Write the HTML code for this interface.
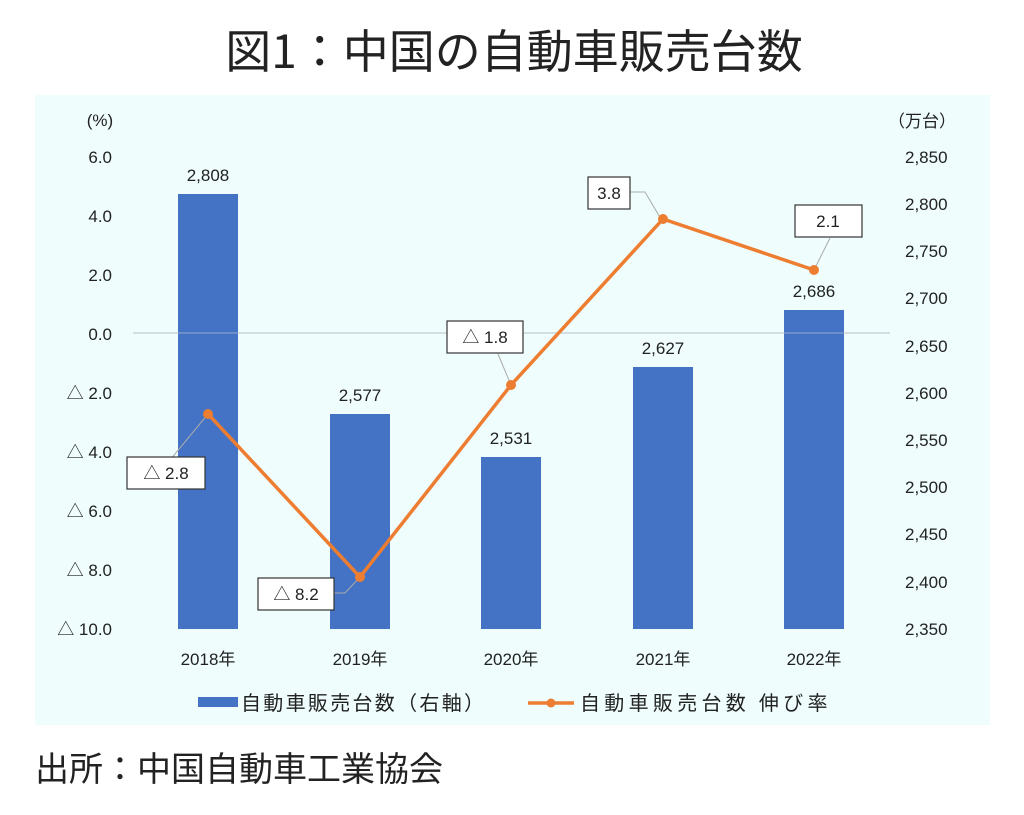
<!DOCTYPE html>
<html><head><meta charset="utf-8"><style>
body{margin:0;background:#fff;width:1024px;height:815px;overflow:hidden}
svg{display:block}
text{font-family:"Liberation Sans","Noto Sans CJK JP",sans-serif;fill:#222}
</style></head><body>
<svg width="1024" height="815" viewBox="0 0 1024 815">
<text x="514" y="68" font-size="46" text-anchor="middle" style="font-family:'Noto Sans CJK JP',sans-serif">図1：中国の自動車販売台数</text>
<rect x="35" y="95" width="955" height="630" fill="#effdfd"/>
<line x1="133" y1="333" x2="890" y2="333" stroke="#c9d3da" stroke-width="1.5"/>
<g font-size="17">
<text x="100" y="126" text-anchor="middle">(%)</text>
<g text-anchor="end">
<text x="112" y="163">6.0</text><text x="112" y="222">4.0</text><text x="112" y="281">2.0</text><text x="112" y="340">0.0</text>
<text x="112" y="399">△ 2.0</text><text x="112" y="458">△ 4.0</text><text x="112" y="517">△ 6.0</text><text x="112" y="576">△ 8.0</text><text x="112" y="635">△ 10.0</text>
</g>
<text x="922" y="127" text-anchor="middle">（万台）</text>
<g>
<text x="905" y="163">2,850</text><text x="905" y="210">2,800</text><text x="905" y="257">2,750</text><text x="905" y="304">2,700</text><text x="905" y="352">2,650</text>
<text x="905" y="399">2,600</text><text x="905" y="446">2,550</text><text x="905" y="493">2,500</text><text x="905" y="540">2,450</text><text x="905" y="588">2,400</text><text x="905" y="635">2,350</text>
</g>
</g>
<g fill="#4472c4">
<rect x="178" y="194" width="60" height="435"/>
<rect x="330" y="414" width="60" height="215"/>
<rect x="481" y="457" width="60" height="172"/>
<rect x="633" y="367" width="60" height="262"/>
<rect x="784" y="310" width="60" height="319"/>
</g>
<line x1="178" y1="333" x2="844" y2="333" stroke="#c9d3da" stroke-width="1" opacity="0.6"/>
<g font-size="17" text-anchor="middle">
<text x="208" y="181">2,808</text><text x="360" y="401">2,577</text><text x="511" y="444">2,531</text><text x="663" y="354">2,627</text><text x="814" y="297">2,686</text>
<text x="208" y="665">2018年</text><text x="360" y="665">2019年</text><text x="511" y="665">2020年</text><text x="663" y="665">2021年</text><text x="814" y="665">2022年</text>
</g>
<g stroke="#aaa" stroke-width="1" fill="none">
<polyline points="170,460 208,414"/><polyline points="325,593 345,593 360,577"/>
<polyline points="498,354 511,385"/><polyline points="630,192 645,192 661,219"/><polyline points="830,238 814,270"/>
</g>
<polyline points="208,414 360,577 511,385 663,219 814,270" fill="none" stroke="#ed7d31" stroke-width="3.5" stroke-linejoin="round"/>
<g fill="#ed7d31"><circle cx="208" cy="414" r="5"/><circle cx="360" cy="577" r="5"/><circle cx="511" cy="385" r="5"/><circle cx="663" cy="219" r="5"/><circle cx="814" cy="270" r="5"/></g>
<g fill="#fff" stroke="#333" stroke-width="1.2">
<rect x="127" y="457" width="78" height="32"/><rect x="258" y="578" width="76" height="32"/>
<rect x="447" y="321" width="76" height="32"/><rect x="588" y="177" width="42" height="32"/><rect x="795" y="205" width="67" height="32"/>
</g>
<g font-size="17" text-anchor="middle">
<text x="166" y="479">△ 2.8</text><text x="296" y="600">△ 8.2</text><text x="485" y="343">△ 1.8</text><text x="609" y="199">3.8</text><text x="828" y="227">2.1</text>
</g>
<rect x="198" y="697" width="40" height="10" fill="#4472c4"/>
<text x="241" y="710" font-size="20" letter-spacing="2.3" style="font-family:'Noto Sans CJK JP',sans-serif">自動車販売台数（右軸）</text>
<line x1="528" y1="703" x2="574" y2="703" stroke="#ed7d31" stroke-width="3.5"/>
<circle cx="551" cy="703" r="4.5" fill="#ed7d31"/>
<text x="580" y="710" font-size="20" letter-spacing="4.3" style="font-family:'Noto Sans CJK JP',sans-serif">自動車販売台数 伸び率</text>
<text x="35" y="781" font-size="34" style="font-family:'Noto Sans CJK JP',sans-serif">出所：中国自動車工業協会</text>
</svg>
</body></html>
